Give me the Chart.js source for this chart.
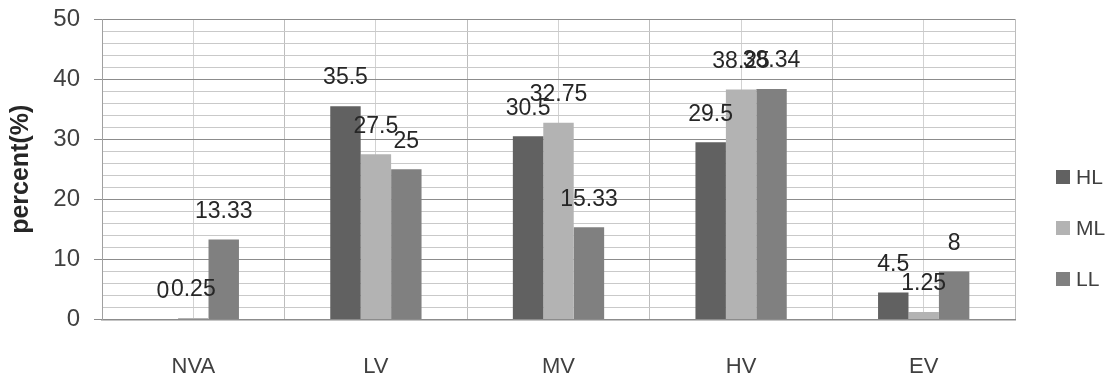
<!DOCTYPE html>
<html>
<head>
<meta charset="utf-8">
<script src="https://cdn.jsdelivr.net/npm/chart.js@4/dist/chart.umd.min.js"></script>
<style>
  html, body { margin: 0; padding: 0; background: #ffffff; }
  canvas { display: block; }
</style>
</head>
<body>
<canvas id="chart" width="1112" height="379"></canvas>
<script>
// Categories and the three series (percent)
const categories = ['NVA', 'LV', 'MV', 'HV', 'EV'];
const seriesNames = ['HL', 'ML', 'LL'];
const hlValues = [0, 35.5, 30.5, 29.5, 4.5];
const mlValues = [0.25, 27.5, 32.75, 38.25, 1.25];
const llValues = [13.33, 25, 15.33, 38.34, 8];
const yMin = 0;
const yMax = 50;
const yMajorStep = 10;
const yMinorStep = 2;

const FONT = "'Liberation Sans', Arial, sans-serif";
const seriesColors = ['#616161', '#b3b3b3', '#808080'];

// Value labels above each bar
const barLabels = {
  id: 'barLabels',
  afterDatasetsDraw(chart) {
    const ctx = chart.ctx;
    ctx.save();
    ctx.font = '23px ' + FONT;
    ctx.fillStyle = '#262626';
    ctx.textAlign = 'center';
    ctx.textBaseline = 'middle';
    chart.data.datasets.forEach((ds, i) => {
      const meta = chart.getDatasetMeta(i);
      meta.data.forEach((bar, j) => {
        ctx.fillText(String(ds.data[j]), bar.x, bar.y - 28);
      });
    });
    ctx.restore();
  }
};

// Legend on the right: small square swatch and series name
const sideLegend = {
  id: 'sideLegend',
  afterDraw(chart) {
    const ctx = chart.ctx;
    ctx.save();
    ctx.font = '21px ' + FONT;
    ctx.textBaseline = 'middle';
    ctx.textAlign = 'left';
    chart.data.datasets.forEach((ds, i) => {
      const cy = 177 + i * 51;
      ctx.fillStyle = ds.backgroundColor;
      ctx.fillRect(1056, cy - 7, 14, 14);
      ctx.fillStyle = '#404040';
      ctx.fillText(ds.label, 1076, cy + 1);
    });
    ctx.restore();
  }
};

const isMajor = v => Math.abs(v % yMajorStep) < 1e-9;

new Chart(document.getElementById('chart'), {
  type: 'bar',
  data: {
    labels: categories,
    datasets: [
      { label: seriesNames[0], data: hlValues, backgroundColor: seriesColors[0] },
      { label: seriesNames[1], data: mlValues, backgroundColor: seriesColors[1] },
      { label: seriesNames[2], data: llValues, backgroundColor: seriesColors[2] }
    ]
  },
  options: {
    responsive: false,
    animation: false,
    devicePixelRatio: 1,
    layout: { padding: { left: 0, right: 97, top: 19, bottom: 0 } },
    datasets: {
      bar: { categoryPercentage: 0.5, barPercentage: 1.0, borderWidth: 0 }
    },
    plugins: {
      legend: { display: false },
      tooltip: { enabled: false }
    },
    scales: {
      x: {
        type: 'category',
        offset: true,
        grid: { offset: true, color: '#bdbdbd', lineWidth: 1, drawTicks: false },
        border: { color: '#8c8c8c', width: 1.5 },
        ticks: { padding: 34, color: '#404040', font: { family: FONT, size: 22 } },
        afterFit(scale) { scale.height = 59.5; }
      },
      xCenter: {
        type: 'category',
        labels: categories,
        position: 'bottom',
        offset: true,
        grid: { offset: false, color: '#d2d2d2', lineWidth: 1, drawTicks: false },
        border: { display: false },
        ticks: { display: false },
        afterFit(scale) { scale.height = 0; }
      },
      y: {
        min: yMin,
        max: yMax,
        grid: {
          color: ctx => isMajor(ctx.tick.value) ? '#8c8c8c' : '#c9c9c9',
          tickColor: ctx => isMajor(ctx.tick.value) ? '#8c8c8c' : 'rgba(0,0,0,0)',
          tickLength: 8,
          lineWidth: 1
        },
        border: { color: '#a0a0a0' },
        ticks: {
          stepSize: yMinorStep,
          autoSkip: false,
          padding: 14,
          color: '#404040',
          font: { family: FONT, size: 24 },
          callback: v => isMajor(v) ? String(v) : ''
        },
        title: {
          display: true,
          text: 'percent(%)',
          color: '#262626',
          font: { family: FONT, size: 25, weight: 'bold' },
          padding: { top: 6, bottom: 0 }
        },
        afterFit(scale) {
          scale.width = 102;
          scale.paddingTop = 0;
          scale.paddingBottom = 0;
        }
      }
    }
  },
  plugins: [barLabels, sideLegend]
});
</script>
</body>
</html>
